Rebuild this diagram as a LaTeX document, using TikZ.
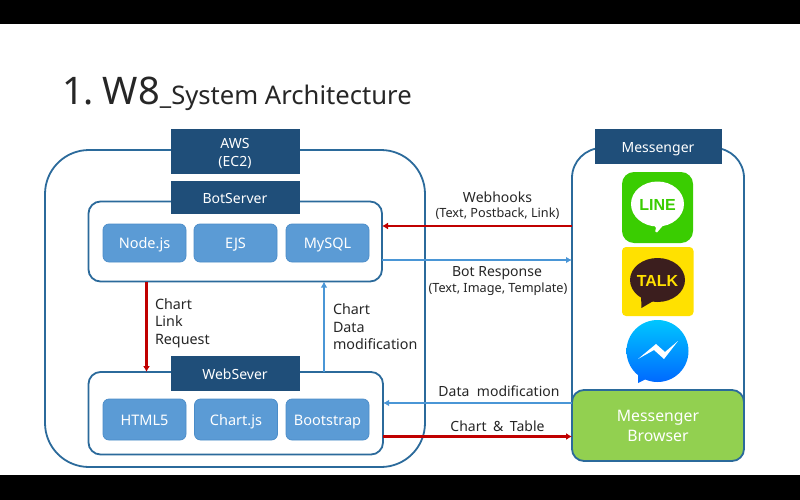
\documentclass[tikz,border=0pt]{standalone}
\usepackage{fontspec}
\setmainfont{Noto Sans}
\newfontfamily\iconfont{Liberation Sans}
\usetikzlibrary{arrows.meta}
\definecolor{navy}{HTML}{1F4E79}
\definecolor{edge}{HTML}{2B6A9B}
\definecolor{tile}{HTML}{5B9BD5}
\definecolor{tileedge}{HTML}{4A8CC8}
\definecolor{blueline}{HTML}{4A96D6}
\definecolor{redline}{HTML}{C00000}
\definecolor{leaf}{HTML}{92D050}
\definecolor{txt}{HTML}{262626}
\definecolor{linegreen}{HTML}{3ACD01}
\definecolor{talkyellow}{HTML}{FFE100}
\definecolor{talkbrown}{HTML}{3B1E1E}
\newcommand\twolines[2]{\vbox{\halign{\hfil##\hfil\cr #1\cr #2\cr}}}
\tikzset{
  base/.style={inner sep=0pt,outer sep=0pt},
  group/.style={base,draw=edge,line width=1.8pt,fill=white,rounded corners=#1},
  header/.style={base,text height=12.4pt,text depth=0pt,fill=navy,draw=navy,line width=.6pt,text=white,font=\fontsize{14}{18}\selectfont},
  tilebox/.style={base,text height=11pt,text depth=0pt,fill=tile,draw=tileedge,line width=.7pt,rounded corners=6pt,minimum width=83pt,text=white,font=\fontsize{14.5}{17}\selectfont},
  browserbox/.style={group=12pt,text height=32.4pt,text depth=0pt,fill=leaf,text=white,font=\fontsize{15.8}{20}\selectfont},
  note/.style={base,align=left,text=txt,font=\fontsize{14.3}{17.5}\selectfont},
  small/.style={base,text=txt,font=\fontsize{14}{15}\selectfont},
  tiny/.style={base,text=txt,font=\fontsize{12.7}{14}\selectfont},
  redarrow/.style={draw=redline,line width=2.2pt,-{Latex[length=6pt,width=7pt]}},
  bluearrow/.style={draw=blueline,line width=1.6pt,-{Latex[length=6pt,width=6.5pt]}},
}
\begin{document}
\begin{tikzpicture}[x=1pt,y=-1pt]
\useasboundingbox (0,0) rectangle (800,500);
\fill[white] (0,0) rectangle (800,500);
\fill[black] (0,0) rectangle (800,24.5);
\fill[black] (0,475) rectangle (800,500);

\node[base,anchor=base west,text=txt] (title) at (62,105)
  {\fontsize{38}{40}\selectfont 1.\hspace{9pt}W8\fontsize{25.6}{30}\selectfont\_System Architecture};

% AWS group
\node[group=44pt,minimum width=380pt,minimum height=317pt] (aws) at (235,308.5) {};
\node[header,text height=30pt,minimum width=128pt,minimum height=44pt] (awsh) at (235,151) {\twolines{AWS}{(EC2)}};
% Bot server
\node[group=12pt,minimum width=293.5pt,minimum height=80pt] (bot) at (235.25,241.5) {};
\node[header,minimum width=128pt,minimum height=32pt] (both) at (235,197) {BotServer};
\node[tilebox,minimum height=38pt] (node) at (144.5,243) {Node.js};
\node[tilebox,minimum height=38pt] (ejs) at (235.5,243) {EJS};
\node[tilebox,minimum height=38pt] (mysql) at (327.5,243) {MySQL};
% Web server
\node[group=12pt,minimum width=294.5pt,minimum height=82.5pt] (web) at (235.75,413.25) {};
\node[header,minimum width=128pt,minimum height=34pt] (webh) at (235,373) {WebSever};
\node[tilebox,minimum height=41pt] (html) at (144.5,419.5) {HTML5};
\node[tilebox,minimum height=41pt] (chart) at (236,419.5) {Chart.js};
\node[tilebox,minimum height=41pt] (boot) at (327.5,419.5) {Bootstrap};

% Messenger group
\node[group=30pt,minimum width=172pt,minimum height=313pt] (msg) at (658,304.5) {};
\node[header,minimum width=126pt,minimum height=34pt] (msgh) at (658,146) {Messenger};

% LINE icon
\node[base,fill=linegreen,rounded corners=12pt,minimum width=71pt,minimum height=71pt] (line) at (657.5,207.5) {};
\fill[white] (657.5,204) ellipse [x radius=26.5pt,y radius=22.5pt];
\fill[white] (652,222) -- (666,222) -- (657,232.5) .. controls (655,233) and (655,231) .. (656,228) -- cycle;
\node[base,text=linegreen,font=\fontsize{16}{16}\iconfont\bfseries\selectfont] (linet) at (657.5,205) {LINE};

% Talk icon
\node[base,fill=talkyellow,rounded corners=4pt,minimum width=71.5pt,minimum height=69pt] (talk) at (657.75,281.5) {};
\fill[talkbrown] (657.5,280) ellipse [x radius=27.5pt,y radius=22pt];
\fill[talkbrown] (641,295) -- (655,300) -- (641.5,308) -- cycle;
\node[base,text=talkyellow,font=\fontsize{16}{16}\iconfont\bfseries\selectfont] (talkt) at (657.5,281) {TALK};

% Facebook messenger icon
\shade[top color={rgb,255:red,0;green,198;blue,255},bottom color={rgb,255:red,0;green,104;blue,255},shading angle=0]
  (657.5,351) circle [radius=31pt]
  (638,372) -- (638,383) -- (652,376) -- (662,376) -- cycle;
\fill[white] (638,359) -- (656,344) -- (665,352) -- (678,341) -- (664,359) -- (654,350) -- cycle;

% Browser
\node[browserbox,minimum width=172pt,minimum height=71pt] (brow) at (658,425.5) {\twolines{Messenger}{Browser}};

% Connectors
\draw[redarrow] (msg.west |- 0,226) -- (bot.east |- 0,226);
\draw[bluearrow] (bot.east |- 0,260) -- (msg.west |- 0,260);
\draw[redarrow] (bot.south -| 146.5,0) -- (web.north -| 146.5,0);
\draw[bluearrow] (web.north -| 324,0) -- (bot.south -| 324,0);
\draw[bluearrow] (brow.west |- 0,403) -- (web.east |- 0,403);
\draw[redarrow] (web.east |- 0,436.5) -- (brow.west |- 0,436.5);

% Labels
\node[small] (l1) at (497.5,197) {Webhooks};
\node[tiny] (l1b) at (497.5,214) {(Text, Postback, Link)};
\node[small] (l2) at (497,273) {Bot Response};
\node[tiny] (l2b) at (498,289) {(Text, Image, Template)};
\node[small] (l3) at (499,391) {Data\hspace{7.5pt}modification};
\node[small] (l4) at (497.5,426) {Chart\hspace{6.5pt}\&\hspace{6.5pt}Table};
\node[note,anchor=north west] (l5) at (155,298.5) {Chart\\Link\\Request};
\node[note,anchor=north west] (l6) at (333,304) {Chart\\Data\\modification};
\end{tikzpicture}
\end{document}
